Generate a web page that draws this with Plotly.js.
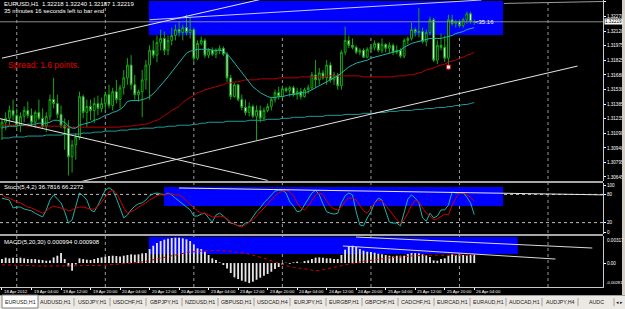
<!DOCTYPE html>
<html><head><meta charset="utf-8">
<script src="https://cdn.plot.ly/plotly-3.0.1.min.js"></script>
<style>html,body{margin:0;padding:0;background:#000;overflow:hidden}#chart{width:625px;height:309px}</style>
</head><body><div id="chart"></div>
<script>
const symbol = "EURUSD,H1";
const days = ["18 Apr","19 Apr","20 Apr","23 Apr","24 Apr","25 Apr","26 Apr","27 Apr"];
const timeLabels = ["18 Apr 2012","19 Apr 04:00","19 Apr 12:00","19 Apr 20:00","20 Apr 04:00","20 Apr 12:00","20 Apr 20:00","23 Apr 04:00","23 Apr 12:00","23 Apr 20:00","24 Apr 04:00","24 Apr 12:00","24 Apr 20:00","25 Apr 04:00","25 Apr 12:00","25 Apr 20:00","26 Apr 04:00"];
const priceTicks = [1.32420,1.32270,1.32120,1.31975,1.31825,1.31680,1.31530,1.31385,1.31235,1.31090,1.30940,1.30795,1.30645];
const tabs = ["EURUSD,H1","AUDUSD,H1","USDJPY,H1","USDCHF,H1","GBPJPY,H1","NZDUSD,H1","GBPUSD,H1","USDCAD,H4","EURJPY,H1","EURGBP,H1","GBPCHF,H1","CADCHF,H1","EURCAD,H1","EURAUD,H1","AUDCAD,H1","AUDJPY,H4","AUDC"];
const stopMarker = {bar: 121, price: 1.3176};

const openPrice = [
1.3114,1.3120,1.3124,1.3132,1.3127,1.3117,1.3126,1.3132,1.3127,1.3120,
1.3130,1.3124,1.3116,1.3126,1.3143,1.3139,1.3128,1.3117,1.3114,1.3085,
1.3097,1.3105,1.3146,1.3130,1.3136,1.3132,1.3139,1.3134,1.3139,1.3148,
1.3137,1.3151,1.3143,1.3155,1.3165,1.3178,1.3158,1.3148,1.3151,1.3163,
1.3178,1.3193,1.3188,1.3201,1.3205,1.3193,1.3203,1.3208,1.3214,1.3211,
1.3216,1.3211,1.3214,1.3185,1.3200,1.3203,1.3188,1.3193,1.3189,1.3193,
1.3195,1.3189,1.3165,1.3146,1.3158,1.3143,1.3135,1.3130,1.3136,1.3126,
1.3132,1.3124,1.3132,1.3136,1.3143,1.3150,1.3146,1.3154,1.3152,1.3155,
1.3148,1.3151,1.3146,1.3153,1.3155,1.3168,1.3163,1.3170,1.3165,1.3178,
1.3163,1.3168,1.3157,1.3191,1.3203,1.3198,1.3196,1.3191,1.3193,1.3186,
1.3194,1.3196,1.3200,1.3193,1.3199,1.3195,1.3198,1.3191,1.3193,1.3187,
1.3203,1.3205,1.3214,1.3211,1.3212,1.3202,1.3211,1.3224,1.3183,1.3198,
1.3196,1.3185,1.3224,1.3220,1.3222,1.3218,1.3224,1.3230,1.32218];
const highPrice = [
1.3124,1.3130,1.3137,1.3143,1.3134,1.3130,1.3136,1.3141,1.3134,1.3132,
1.3143,1.3134,1.3130,1.3148,1.3165,1.3148,1.3137,1.3124,1.3122,1.3102,
1.3109,1.3151,1.3148,1.3143,1.3143,1.3145,1.3147,1.3145,1.3151,1.3158,
1.3155,1.3163,1.3158,1.3173,1.3185,1.3188,1.3168,1.3153,1.3173,1.3183,
1.3198,1.3203,1.3208,1.3214,1.3212,1.3208,1.3216,1.3219,1.3222,1.3219,
1.3229,1.3227,1.3216,1.3203,1.3207,1.3205,1.3195,1.3196,1.3195,1.3198,
1.3197,1.3191,1.3168,1.3160,1.3159,1.3148,1.3143,1.3140,1.3138,1.3137,
1.3137,1.3135,1.3139,1.3145,1.3153,1.3156,1.3157,1.3156,1.3157,1.3157,
1.3155,1.3155,1.3155,1.3158,1.3171,1.3183,1.3175,1.3173,1.3183,1.3181,
1.3171,1.3170,1.3193,1.3217,1.3208,1.3205,1.3198,1.3195,1.3195,1.3196,
1.3198,1.3203,1.3201,1.3205,1.3200,1.3201,1.3200,1.3198,1.3195,1.3205,
1.3207,1.3221,1.3216,1.3236,1.3216,1.3214,1.3227,1.3226,1.3203,1.3210,
1.3208,1.3229,1.3229,1.3224,1.3224,1.3226,1.3232,1.3232,1.32240];
const lowPrice = [
1.3102,1.3112,1.3117,1.3122,1.3114,1.3110,1.3120,1.3124,1.3116,1.3114,
1.3122,1.3114,1.3110,1.3122,1.3134,1.3124,1.3114,1.3092,1.3066,1.3069,
1.3082,1.3102,1.3124,1.3115,1.3122,1.3119,1.3127,1.3130,1.3132,1.3134,
1.3132,1.3139,1.3134,1.3148,1.3158,1.3153,1.3143,1.3141,1.3125,1.3153,
1.3143,1.3185,1.3181,1.3193,1.3188,1.3188,1.3198,1.3203,1.3207,1.3203,
1.3208,1.3205,1.3181,1.3183,1.3198,1.3185,1.3185,1.3187,1.3185,1.3189,
1.3187,1.3161,1.3143,1.3145,1.3141,1.3132,1.3127,1.3126,1.3124,1.3102,
1.3120,1.3122,1.3130,1.3132,1.3140,1.3143,1.3144,1.3150,1.3146,1.3146,
1.3143,1.3143,1.3145,1.3149,1.3153,1.3155,1.3158,1.3163,1.3158,1.3160,
1.3158,1.3153,1.3153,1.3188,1.3195,1.3194,1.3189,1.3188,1.3185,1.3185,
1.3191,1.3193,1.3191,1.3190,1.3191,1.3190,1.3188,1.3189,1.3185,1.3185,
1.3199,1.3203,1.3207,1.3206,1.3200,1.3197,1.3208,1.3181,1.3179,1.3193,
1.3181,1.3173,1.3218,1.3216,1.3216,1.3216,1.3220,1.3220,1.32187];
const closePrice = [
1.3120,1.3124,1.3132,1.3127,1.3117,1.3126,1.3132,1.3127,1.3120,1.3130,
1.3124,1.3116,1.3126,1.3143,1.3139,1.3128,1.3117,1.3114,1.3085,1.3097,
1.3105,1.3146,1.3130,1.3136,1.3132,1.3139,1.3134,1.3139,1.3148,1.3137,
1.3151,1.3143,1.3155,1.3165,1.3178,1.3158,1.3148,1.3151,1.3163,1.3178,
1.3193,1.3188,1.3201,1.3205,1.3193,1.3203,1.3208,1.3214,1.3211,1.3216,
1.3211,1.3214,1.3185,1.3200,1.3203,1.3188,1.3193,1.3189,1.3193,1.3195,
1.3189,1.3165,1.3146,1.3158,1.3143,1.3135,1.3130,1.3136,1.3126,1.3132,
1.3124,1.3132,1.3136,1.3143,1.3150,1.3146,1.3154,1.3152,1.3155,1.3148,
1.3151,1.3146,1.3153,1.3155,1.3168,1.3163,1.3170,1.3165,1.3178,1.3163,
1.3168,1.3157,1.3191,1.3203,1.3198,1.3196,1.3191,1.3193,1.3186,1.3194,
1.3196,1.3200,1.3193,1.3199,1.3195,1.3198,1.3191,1.3193,1.3187,1.3203,
1.3205,1.3214,1.3211,1.3212,1.3202,1.3211,1.3224,1.3183,1.3198,1.3196,
1.3185,1.3224,1.3220,1.3222,1.3218,1.3224,1.3230,1.3222,1.32219];

const fastMA = [
1.3115,1.3115,1.3116,1.3116,1.3116,1.3117,1.3117,1.3118,1.3118,1.3118,
1.3119,1.3119,1.3119,1.3120,1.3122,1.3122,1.3121,1.3120,1.3116,1.3114,
1.3114,1.3117,1.3118,1.3119,1.3120,1.3122,1.3123,1.3125,1.3127,1.3128,
1.3130,1.3131,1.3133,1.3136,1.3141,1.3142,1.3142,1.3142,1.3143,1.3144,
1.3146,1.3149,1.3153,1.3157,1.3161,1.3166,1.3171,1.3176,1.3181,1.3186,
1.3190,1.3192,1.3193,1.3194,1.3194,1.3194,1.3194,1.3193,1.3193,1.3193,
1.3192,1.3189,1.3185,1.3180,1.3175,1.3170,1.3165,1.3160,1.3156,1.3153,
1.3150,1.3148,1.3146,1.3145,1.3145,1.3146,1.3146,1.3147,1.3148,1.3148,
1.3149,1.3150,1.3150,1.3151,1.3153,1.3155,1.3157,1.3159,1.3161,1.3163,
1.3165,1.3167,1.3170,1.3173,1.3176,1.3178,1.3180,1.3181,1.3182,1.3183,
1.3185,1.3186,1.3187,1.3188,1.3189,1.3190,1.3191,1.3192,1.3193,1.3196,
1.3198,1.3200,1.3201,1.3202,1.3203,1.3204,1.3205,1.3205,1.3205,1.3205,
1.3206,1.3207,1.3208,1.3210,1.3211,1.3212,1.3214,1.3215,1.3216];
const midMA = [
1.3117,1.3117,1.3117,1.3117,1.3117,1.3117,1.3117,1.3116,1.3116,1.3116,
1.3116,1.3116,1.3116,1.3116,1.3116,1.3116,1.3116,1.3116,1.3115,1.3115,
1.3115,1.3115,1.3115,1.3115,1.3115,1.3115,1.3115,1.3115,1.3115,1.3115,
1.3115,1.3115,1.3115,1.3116,1.3116,1.3116,1.3117,1.3117,1.3118,1.3118,
1.3119,1.3121,1.3122,1.3124,1.3127,1.3129,1.3132,1.3134,1.3136,1.3140,
1.3143,1.3145,1.3147,1.3150,1.3151,1.3153,1.3154,1.3155,1.3156,1.3157,
1.3158,1.3160,1.3160,1.3161,1.3161,1.3162,1.3163,1.3163,1.3163,1.3163,
1.3164,1.3164,1.3164,1.3164,1.3164,1.3165,1.3165,1.3165,1.3165,1.3165,
1.3165,1.3166,1.3166,1.3166,1.3166,1.3166,1.3166,1.3166,1.3167,1.3167,
1.3167,1.3167,1.3167,1.3167,1.3167,1.3167,1.3167,1.3167,1.3166,1.3166,
1.3166,1.3166,1.3166,1.3166,1.3166,1.3166,1.3166,1.3167,1.3167,1.3167,
1.3168,1.3168,1.3169,1.3170,1.3171,1.3173,1.3174,1.3175,1.3177,1.3178,
1.3179,1.3181,1.3182,1.3183,1.3185,1.3186,1.3188,1.3189,1.3191];
const slowMA = [
1.3104,1.3104,1.3104,1.3105,1.3105,1.3105,1.3105,1.3106,1.3106,1.3106,
1.3106,1.3106,1.3107,1.3107,1.3107,1.3107,1.3107,1.3108,1.3108,1.3108,
1.3108,1.3108,1.3109,1.3109,1.3109,1.3110,1.3110,1.3110,1.3111,1.3111,
1.3111,1.3111,1.3112,1.3112,1.3112,1.3113,1.3113,1.3113,1.3114,1.3114,
1.3114,1.3114,1.3115,1.3115,1.3115,1.3116,1.3116,1.3116,1.3117,1.3117,
1.3117,1.3117,1.3118,1.3118,1.3119,1.3119,1.3120,1.3120,1.3120,1.3120,
1.3120,1.3121,1.3121,1.3121,1.3121,1.3121,1.3121,1.3122,1.3122,1.3122,
1.3122,1.3122,1.3123,1.3123,1.3123,1.3123,1.3124,1.3124,1.3124,1.3125,
1.3125,1.3125,1.3125,1.3126,1.3126,1.3126,1.3126,1.3126,1.3127,1.3127,
1.3127,1.3127,1.3127,1.3128,1.3128,1.3128,1.3128,1.3128,1.3129,1.3129,
1.3129,1.3129,1.3130,1.3130,1.3130,1.3131,1.3131,1.3131,1.3132,1.3132,
1.3132,1.3132,1.3133,1.3133,1.3133,1.3134,1.3134,1.3134,1.3135,1.3135,
1.3135,1.3136,1.3136,1.3137,1.3137,1.3138,1.3138,1.3139,1.3140];

const stochK = [
72,70,68,51,53,53,49,47,45,40,
36,32,47,68,79,70,62,43,19,26,
57,83,77,68,47,43,57,74,89,94,
89,72,51,30,36,47,55,60,62,68,
77,81,83,81,79,83,79,72,66,60,
53,47,34,34,38,40,30,21,36,40,
34,26,19,17,13,13,19,21,32,43,
51,62,70,79,87,89,89,83,64,55,
43,45,57,70,83,89,79,60,43,40,
38,40,62,77,83,79,43,15,13,30,
43,62,72,68,43,21,19,19,13,43,
70,79,72,62,30,23,40,30,34,47,
47,57,85,83,83,83,74,62,36.7816];
const stochD = [
79,74,72,68,64,62,57,53,51,47,
43,40,45,51,55,53,51,49,45,47,
51,53,53,51,49,49,55,64,74,85,
89,83,68,51,40,43,47,53,57,62,
68,72,77,79,79,81,81,79,79,74,
66,57,51,45,40,40,36,32,32,34,
32,28,21,17,13,11,15,21,26,34,
43,51,60,68,77,83,87,89,85,77,
62,51,47,55,68,79,83,79,66,55,
49,47,53,66,72,72,68,57,45,40,
51,62,68,66,57,47,36,26,19,26,
40,57,68,64,51,40,34,26,28,34,
38,36,57,72,83,83,79,74,66.2272];

const macdMain = [
0.00047,0.00063,0.00055,0.00063,0.00059,0.00063,0.00055,0.00047,0.00047,0.00047,
0.00039,0.00035,0.00027,0.00031,0.00066,0.00086,0.00117,0.00047,-0.00039,-0.00090,
-0.00016,0.00055,0.00047,0.00039,0.00035,0.00047,0.00059,0.00066,0.00074,0.00082,
0.00086,0.00082,0.00078,0.00086,0.00094,0.00102,0.00098,0.00102,0.00113,0.00117,
0.00164,0.00203,0.00235,0.00258,0.00274,0.00285,0.00293,0.00297,0.00297,0.00289,
0.00278,0.00258,0.00219,0.00172,0.00164,0.00133,0.00094,0.00055,0.00035,0.00008,
-0.00023,-0.00063,-0.00117,-0.00168,-0.00188,-0.00207,-0.00219,-0.00235,-0.00219,-0.00196,
-0.00172,-0.00149,-0.00129,-0.00102,-0.00070,-0.00047,-0.00023,0.00002,-0.00010,0.00008,
0.00016,0.00002,0.00023,0.00031,0.00047,0.00063,0.00066,0.00063,0.00055,0.00055,
0.00047,0.00047,0.00094,0.00156,0.00196,0.00203,0.00188,0.00164,0.00145,0.00133,
0.00129,0.00121,0.00109,0.00102,0.00094,0.00086,0.00078,0.00086,0.00086,0.00086,
0.00106,0.00117,0.00117,0.00113,0.00102,0.00090,0.00070,0.00031,0.00027,0.00047,
0.00055,0.00086,0.00102,0.00094,0.00102,0.00094,0.00094,0.00094,0.000994];
const macdSignal = [
-0.00020,-0.00022,-0.00024,-0.00026,-0.00028,-0.00030,-0.00032,-0.00033,-0.00034,-0.00035,
-0.00035,-0.00035,-0.00035,-0.00035,-0.00034,-0.00033,-0.00032,-0.00032,-0.00033,-0.00035,
-0.00035,-0.00034,-0.00033,-0.00032,-0.00032,-0.00031,-0.00030,-0.00028,-0.00025,-0.00022,
-0.00019,-0.00016,-0.00013,-0.00010,-0.00007,-0.00004,0.00000,0.00005,0.00012,0.00020,
0.00030,0.00040,0.00050,0.00060,0.00070,0.00080,0.00090,0.00100,0.00108,0.00115,
0.00122,0.00128,0.00133,0.00138,0.00142,0.00145,0.00147,0.00148,0.00148,0.00147,
0.00145,0.00142,0.00138,0.00133,0.00127,0.00120,0.00112,0.00103,0.00093,0.00082,
0.00070,0.00058,0.00040,0.00025,0.00010,-0.00005,-0.00020,-0.00032,-0.00042,-0.00050,
-0.00057,-0.00063,-0.00068,-0.00075,-0.00082,-0.00088,-0.00088,-0.00080,-0.00070,-0.00060,
-0.00050,-0.00040,-0.00030,-0.00020,-0.00012,-0.00004,0.00004,0.00012,0.00020,0.00027,
0.00033,0.00040,0.00045,0.00050,0.00055,0.00060,0.00065,0.00069,0.00073,0.00077,
0.00080,0.00083,0.00086,0.00088,0.00090,0.00091,0.00092,0.00093,0.00093,0.00093,
0.00092,0.00092,0.00091,0.00091,0.00091,0.00091,0.00091,0.00091,0.000908];
const macdMax = 0.00317, macdMin = -0.00281;

// ---- time line (bar index axis) ----
const times = [];
days.forEach((d, k) => { for (let h = (k === 0 ? 20 : 0); h < 24; h++) times.push({day: d, hour: h}); });
const idx = closePrice.map((_, i) => i);
const sepIdx = times.map((t, i) => t.hour === 0 ? i : -1).filter(i => i >= 0);
const labelIdx = idx.filter(i => times[i].hour % 8 === 4);
const last = closePrice.length - 1;

// ---- layout geometry (pixels) ----
const W = 603, H = 287;
const px = x => x / W, py = y => (H - y) / H;
const green = '#14a814', teal = '#20b2aa', red = '#d00000';
const font = 'Liberation Sans, Arial, sans-serif';

const traces = [
  {type:'candlestick', x: idx, open: openPrice, high: highPrice, low: lowPrice, close: closePrice,
   xaxis:'x', yaxis:'y', whiskerwidth:0, hoverinfo:'skip',
   increasing:{line:{color:green, width:1}, fillcolor:'#000000'},
   decreasing:{line:{color:green, width:1}, fillcolor:'#ffffff'}},
  {type:'scatter', mode:'lines', x: idx, y: slowMA, yaxis:'y', line:{color:'#1c9c96', width:1}},
  {type:'scatter', mode:'lines', x: idx, y: midMA, yaxis:'y', line:{color:'#b80000', width:1}},
  {type:'scatter', mode:'lines', x: idx, y: fastMA, yaxis:'y', line:{color:teal, width:1}},
  {type:'scatter', mode:'markers', x: [stopMarker.bar], y: [stopMarker.price], yaxis:'y',
   marker:{symbol:'square', size:4, color:'#ffffff', line:{color:'#e00000', width:1}}},
  {type:'scatter', mode:'lines', x: idx, y: stochK, yaxis:'y2', line:{color:teal, width:1}},
  {type:'scatter', mode:'lines', x: idx, y: stochD, yaxis:'y2', line:{color:red, width:1}},
  {type:'bar', x: idx, y: macdMain, yaxis:'y3', width:0.5, marker:{color:'#e6e6e6', line:{width:0}}},
  {type:'scatter', mode:'lines', x: idx, y: macdSignal, yaxis:'y3', line:{color:red, width:1, dash:'dot'}}
];

const axisFont = {family: font, size: 4.6, color: '#ffffff'};
const yCommon = {side:'right', showgrid:false, zeroline:false, ticks:'outside', ticklen:2, tickcolor:'#ffffff',
  tickfont: axisFont, showline:true, linecolor:'#c8c8c8', linewidth:1, fixedrange:true, anchor:'x'};

const shapes = [];
// blue rectangle objects
shapes.push({type:'rect', layer:'below', xref:'x', yref:'y', x0:39.8, x1:135.8, y0:1.32085, y1:1.32430, fillcolor:'#0000ff', line:{width:0}});
shapes.push({type:'rect', layer:'below', xref:'x', yref:'y2', x0:43.9, x1:135.8, y0:55.3, y1:95.7, fillcolor:'#0000ff', line:{width:0}});
shapes.push({type:'rect', layer:'below', xref:'x', yref:'y3', x0:39.8, x1:139.8, y0:0.00106, y1:0.00305, fillcolor:'#0000ff', line:{width:0}});
// day separators
sepIdx.forEach(i => shapes.push({type:'line', layer:'below', xref:'x', yref:'paper', x0:i, x1:i, y0:0, y1:1, line:{color:'#9a9a9a', width:1, dash:'dot'}}));
// stochastic levels
[20, 80].forEach(v => shapes.push({type:'line', layer:'below', xref:'paper', yref:'y2', x0:0, x1:1, y0:v, y1:v, line:{color:'#bdbdbd', width:1, dash:'dot'}}));
// bid line
shapes.push({type:'line', xref:'paper', yref:'y', x0:0, x1:1, y0:closePrice[last], y1:closePrice[last], line:{color:'#8c8c8c', width:1}});
// trend lines
const tl = (x0,y0,x1,y1,yref,color) => ({type:'line', xref:'x', yref, x0, y0, x1, y1, line:{color: color || '#e6e6e6', width:1}});
shapes.push(tl(0, 1.3185, 80, 1.3253, 'y'));
shapes.push(tl(40, 1.3224, 130, 1.3244, 'y', '#c8c8ff'));
shapes.push(tl(136, 1.32405, 163, 1.32425, 'y', '#9a9a9a'));
shapes.push(tl(21.7, 1.3060, 156, 1.3177, 'y'));
shapes.push(tl(-1, 1.3124, 72, 1.3061, 'y'));
shapes.push(tl(48, 93.6, 163, 79, 'y2'));
shapes.push(tl(96, 0.00305, 160, 0.00176, 'y3', '#d8d8d8'));
shapes.push(tl(92.4, 0.0020, 150, 0.00047, 'y3', '#d8d8d8'));
// pane separators
[[181,183],[234,236]].forEach(([a,b]) => shapes.push({type:'rect', xref:'paper', yref:'paper', x0:0, x1:1, y0:py(b), y1:py(a), fillcolor:'#a8a8a8', line:{width:0}}));
// right window edge
shapes.push({type:'rect', xref:'paper', yref:'paper', x0:px(622), x1:px(626), y0:py(295), y1:py(0), fillcolor:'#d4d0c8', line:{width:0}});
// tab bar
shapes.push({type:'rect', xref:'paper', yref:'paper', x0:px(0), x1:px(626), y0:py(310), y1:py(295), fillcolor:'#ece9e4', line:{width:0}});
shapes.push({type:'line', xref:'paper', yref:'paper', x0:px(0), x1:px(626), y0:py(295.5), y1:py(295.5), line:{color:'#a0a0a0', width:1}});

const annotations = [];
const txt = (x, y, text, opt) => Object.assign({xref:'paper', yref:'paper', x:px(x), y:py(y), text, showarrow:false,
  xanchor:'left', yanchor:'middle', font:{family:font, size:6, color:'#ffffff'}}, opt || {});
annotations.push(txt(2, 4, `${symbol}  ${openPrice[last].toFixed(5)} ${highPrice[last].toFixed(5)} ${lowPrice[last].toFixed(5)} ${closePrice[last].toFixed(5)}`));
annotations.push(txt(2, 11, '35 minutes 16 seconds left to bar end'));
annotations.push(txt(6, 65, 'Spread: 1.6 points.', {font:{family:font, size:8.5, color:'#e00000'}}));
annotations.push(txt(2, 186.5, `Stoch(5,4,2) ${stochK[last].toFixed(4)} ${stochD[last].toFixed(4)}`));
annotations.push(txt(2, 241.5, `MACD(5,20,30) ${macdMain[last].toFixed(6)} ${macdSignal[last].toFixed(6)}`));
annotations.push({xref:'x', yref:'y', x:134, y:closePrice[last], text:'<35.16', showarrow:false, xanchor:'right', yanchor:'middle',
  font:{family:font, size:6, color:'#ffffff'}});
// current price box on the scale
annotations.push({xref:'paper', yref:'y', x:1, y:closePrice[last], xshift:1, text:closePrice[last].toFixed(5), showarrow:false,
  xanchor:'left', yanchor:'middle', bgcolor:'#ffffff', borderpad:0, font:{family:font, size:4.6, color:'#000000'}});
// MACD scale extremes
annotations.push({xref:'paper', yref:'y3', x:1, y:macdMax, xshift:2, text:macdMax.toFixed(5), showarrow:false, xanchor:'left', yanchor:'top', font:axisFont});
annotations.push({xref:'paper', yref:'y3', x:1, y:macdMin, xshift:1, text:macdMin.toFixed(5), showarrow:false, xanchor:'left', yanchor:'bottom', font:{family:font, size:4.2, color:'#ffffff'}});
// time labels
labelIdx.forEach((i, k) => annotations.push({xref:'x', yref:'paper', x:i, y:py(291), xshift:0, text:timeLabels[k], showarrow:false,
  xanchor:'left', yanchor:'middle', font:{family:font, size:4.3, color:'#ffffff'}}));
// tabs
const tabW = 36;
tabs.forEach((t, k) => {
  const x0 = 2 + k * tabW;
  if (k === 0) shapes.push({type:'rect', xref:'paper', yref:'paper', x0:px(x0), x1:px(x0 + tabW), y0:py(308), y1:py(295), fillcolor:'#ffffff', line:{color:'#808080', width:1}});
  else shapes.push({type:'line', xref:'paper', yref:'paper', x0:px(x0 + tabW), x1:px(x0 + tabW), y0:py(306), y1:py(298), line:{color:'#a0a0a0', width:1}});
  annotations.push({xref:'paper', yref:'paper', x:px(x0 + tabW / 2), y:py(302), text:t, showarrow:false, xanchor:'center', yanchor:'middle',
    font:{family:font, size:5.3, color:'#202020'}});
});
annotations.push(txt(614, 302, '◂ ▸', {font:{family:font, size:5, color:'#202020'}}));

const layout = {
  width:625, height:309, margin:{l:0, r:22, t:0, b:22, pad:0},
  paper_bgcolor:'#000000', plot_bgcolor:'#000000', showlegend:false, hovermode:false, dragmode:false,
  xaxis:{domain:[0,1], range:[-0.54, 162.9], anchor:'y3', showgrid:false, zeroline:false, showticklabels:false,
    ticks:'outside', ticklen:2, tickcolor:'#ffffff', tickvals:labelIdx, showline:true, linecolor:'#c8c8c8', linewidth:1,
    rangeslider:{visible:false}, fixedrange:true},
  yaxis: Object.assign({}, yCommon, {domain:[py(181), 1], range:[1.30604, 1.32440], tickvals:priceTicks, ticktext:priceTicks.map(v => v.toFixed(5))}),
  yaxis2: Object.assign({}, yCommon, {domain:[py(234), py(183)], range:[-4.26, 104.26], tickvals:[0,20,80,100], ticktext:['0','20','80','100']}),
  yaxis3: Object.assign({}, yCommon, {domain:[0, py(236)], range:[macdMin, macdMax], tickvals:[0], ticktext:['0.00']}),
  shapes, annotations
};
Plotly.newPlot('chart', traces, layout, {staticPlot:true, displayModeBar:false});
</script></body></html>
